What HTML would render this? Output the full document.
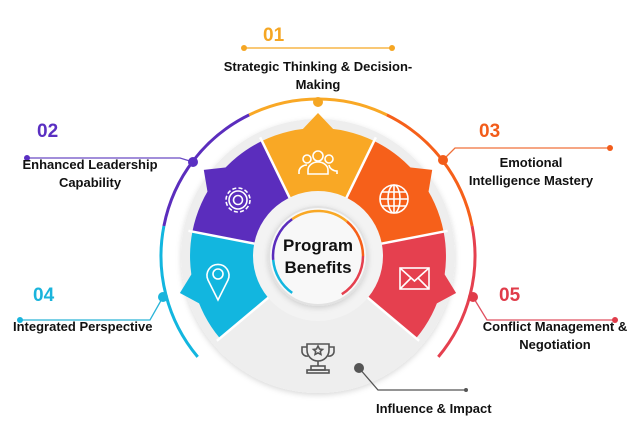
<!DOCTYPE html>
<html><head><meta charset="utf-8"><style>
html,body{margin:0;padding:0;background:#fff;}
#w{position:relative;width:640px;height:441px;overflow:hidden;font-family:"Liberation Sans Narrow","Liberation Sans",sans-serif;}
.t{position:absolute;font-weight:bold;font-size:13px;color:#111;white-space:nowrap;line-height:18px;}
.n{position:absolute;font-family:"Liberation Sans",sans-serif;font-weight:bold;font-size:19px;line-height:20px;}
svg{position:absolute;left:0;top:0;}
</style></head><body><div id="w">
<svg id="s" width="640" height="441" viewBox="0 0 640 441"></svg>
<div class="n" style="left:263px;top:26px;color:#f5a623">01</div>
<div class="n" style="left:37px;top:122px;color:#5a2fc2">02</div>
<div class="n" style="left:479px;top:122px;color:#f25c1a">03</div>
<div class="n" style="left:33px;top:286px;color:#1ab4dc">04</div>
<div class="n" style="left:499px;top:286px;color:#e03c4a">05</div>
<div class="t" style="left:218px;top:58px;width:200px;text-align:center">Strategic Thinking &amp; Decision-<br>Making</div>
<div class="t" style="left:10px;top:156px;width:160px;text-align:center">Enhanced Leadership<br>Capability</div>
<div class="t" style="left:450px;top:154px;width:162px;text-align:center">Emotional<br>Intelligence Mastery</div>
<div class="t" style="left:13px;top:318px">Integrated Perspective</div>
<div class="t" style="left:475px;top:318px;width:160px;text-align:center">Conflict Management &amp;<br>Negotiation</div>
<div class="t" style="left:376px;top:400px">Influence &amp; Impact</div>
<div style="position:absolute;left:263px;top:235px;width:110px;text-align:center;font-family:'Liberation Sans',sans-serif;font-weight:bold;font-size:17px;line-height:22px;color:#111">Program<br>Benefits</div>
</div>
<script>
var cx=318,cy=256,s='';
function P(a,r){a=a*Math.PI/180;return [cx+r*Math.sin(a),cy-r*Math.cos(a)];}
function f(p){return p[0].toFixed(1)+','+p[1].toFixed(1);}
function sector(a1,a2,r1,r2,c,st){var o1=P(a1,r2),o2=P(a2,r2),i2=P(a2,r1),i1=P(a1,r1);
 return '<path d="M'+f(o1)+'A'+r2+','+r2+' 0 0 1 '+f(o2)+'L'+f(i2)+'A'+r1+','+r1+' 0 0 0 '+f(i1)+'Z" fill="'+c+'" '+(st||'')+'/>';}
function arc(a1,a2,r,c,w){var p1=P(a1,r),p2=P(a2,r);return '<path d="M'+f(p1)+'A'+r+','+r+' 0 0 1 '+f(p2)+'" fill="none" stroke="'+c+'" stroke-width="'+w+'"/>';}
function tri(a,c){return '<path d="M'+f(P(a-9,124))+'L'+f(P(a,143))+'L'+f(P(a+9,124))+'Z" fill="'+c+'"/>';}
var cols=['#12b6df','#5b2dbd','#f9a825','#f6601a','#e5404f'];
var b=[-130,-79,-26,26,79,130];
for(var i=0;i<5;i++)s+=arc(b[i],b[i+1],157,cols[i],3);
s+='<defs><filter id="sh" x="-20%" y="-20%" width="140%" height="140%"><feDropShadow dx="0" dy="2" stdDeviation="3" flood-color="#000" flood-opacity="0.15"/></filter></defs>';
s+='<circle cx="'+cx+'" cy="'+cy+'" r="137" fill="#eeeeee" filter="url(#sh)"/>';
for(var i=0;i<5;i++){s+=sector(b[i],b[i+1],64,128,cols[i]);}
var pa=[-105,-53,0,53,105];
for(var i=0;i<5;i++)s+=tri(pa[i],cols[i]);
for(var i=0;i<6;i++){var p1=P(b[i],62),p2=P(b[i],132);s+='<line x1="'+p1[0]+'" y1="'+p1[1]+'" x2="'+p2[0]+'" y2="'+p2[1]+'" stroke="#fff" stroke-width="2.5"/>';}
s+='<circle cx="'+cx+'" cy="'+cy+'" r="65" fill="#f3f3f3"/>';
s+='<circle cx="'+cx+'" cy="'+cy+'" r="49" fill="#f8f8f8" stroke="#e2e2e2" stroke-width="2" filter="url(#sh)"/>';
var ib=[-145,-95,-35,40,90,148];
for(var i=0;i<5;i++)s+=arc(ib[i],ib[i+1],45,cols[i],2.5);
s+='<g stroke-width="1.3" fill="none">';
s+='<line x1="244" y1="48" x2="392" y2="48" stroke="#f5a623"/>';
s+='<polyline points="27,158 180,158 193,162" stroke="#6a4bc4"/>';
s+='<polyline points="443,160 455,148 610,148" stroke="#f0703a"/>';
s+='<polyline points="20,320 150,320 163,297" stroke="#2ab4d8"/>';
s+='<polyline points="473,297 487,320 615,320" stroke="#e05060"/>';
s+='<polyline points="359,368 378,390 466,390" stroke="#555"/></g>';
function dot(x,y,r,c){return '<circle cx="'+x+'" cy="'+y+'" r="'+r+'" fill="'+c+'"/>';}
s+=dot(244,48,3,'#f5a623')+dot(392,48,3,'#f5a623')+dot(318,102,5,'#f5a623');
s+=dot(27,158,3,'#5a2fc2')+dot(193,162,5,'#5a2fc2');
s+=dot(443,160,5,'#f25c1a')+dot(610,148,3,'#f25c1a');
s+=dot(20,320,3,'#1ab4dc')+dot(163,297,5,'#1ab4dc');
s+=dot(473,297,5,'#e03c4a')+dot(615,320,3,'#e03c4a');
s+=dot(359,368,5,'#555')+dot(466,390,2,'#555');
var W='fill="none" stroke="#fff" stroke-width="1.6"';
s+='<g '+W+'><circle cx="318" cy="156" r="5"/><path d="M308,174 v-4 a10,8 0 0 1 20,0 v4 z"/><circle cx="307" cy="159" r="4"/><path d="M299,174 v-3 a8,7 0 0 1 8,-6"/><circle cx="329" cy="159" r="4"/><path d="M337,174 v-3 a8,7 0 0 1 -8,-6"/></g>';
s+='<g '+W+'><circle cx="238" cy="200" r="12" stroke-dasharray="4 2.3"/><circle cx="238" cy="200" r="9"/><circle cx="238" cy="200" r="4.5"/></g>';
s+='<g '+W+'><circle cx="394" cy="199" r="14"/><ellipse cx="394" cy="199" rx="6" ry="14"/><line x1="394" y1="185" x2="394" y2="213"/><line x1="380" y1="199" x2="408" y2="199"/><line x1="382" y1="192" x2="406" y2="192"/><line x1="382" y1="206" x2="406" y2="206"/></g>';
s+='<g '+W+'><path d="M218,300 L208,280 A11,11 0 1 1 228,280 Z"/><circle cx="218" cy="274" r="5"/></g>';
s+='<g '+W+'><rect x="400" y="268" width="29" height="21"/><path d="M400,268 L414.5,281 L429,268 M400,289 L411,278 M429,289 L418,278"/></g>';
s+='<g fill="none" stroke="#555" stroke-width="1.6"><path d="M307,344 h22 v6 a11,11 0 0 1 -22,0 z"/><path d="M307,347 h-5 v5 a5,5 0 0 0 6,4 M329,347 h5 v5 a5,5 0 0 1 -6,4"/><line x1="318" y1="361" x2="318" y2="366"/><rect x="311" y="366" width="14" height="4"/><rect x="307" y="370" width="22" height="3"/><path d="M318,346 l1.5,3 3,0.4 -2.2,2 0.6,3 -2.9,-1.5 -2.9,1.5 0.6,-3 -2.2,-2 3,-0.4z"/></g>';
document.getElementById('s').innerHTML=s;
</script>
</body></html>
